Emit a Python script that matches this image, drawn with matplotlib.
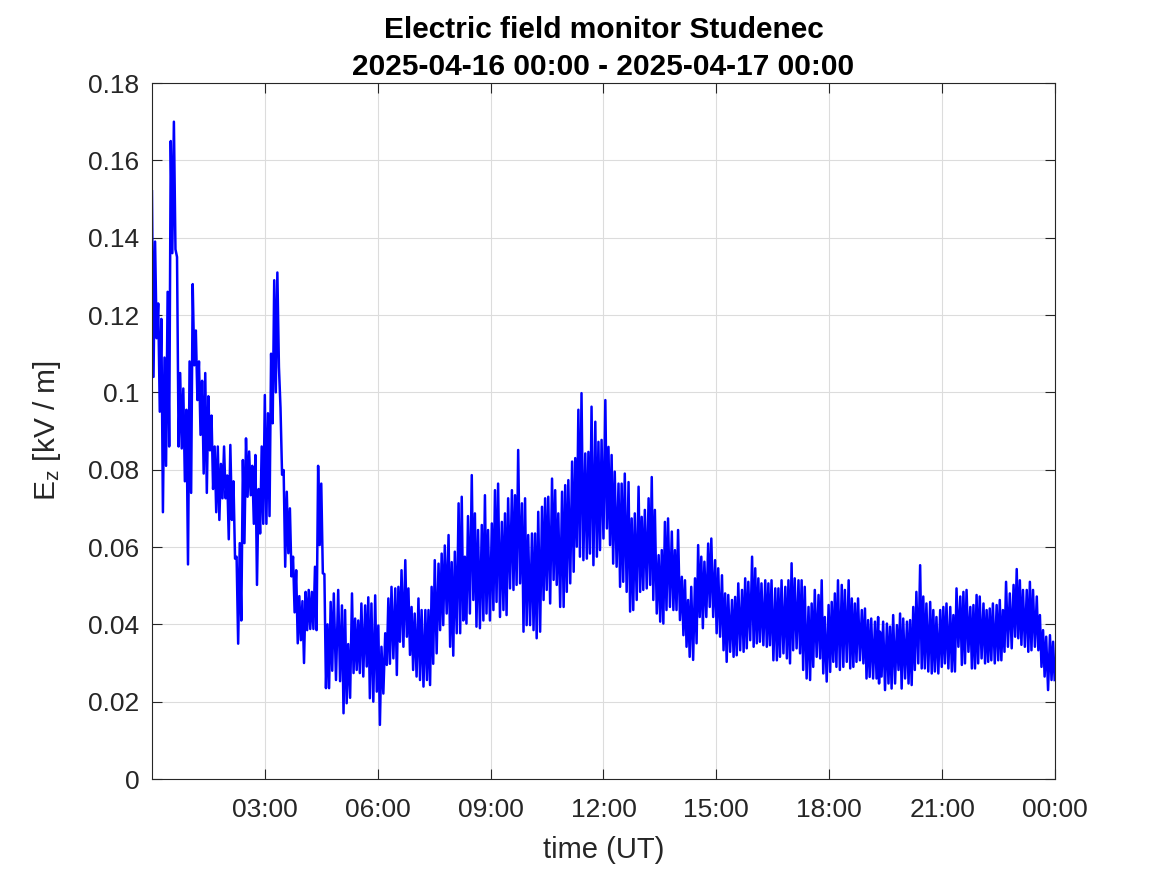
import matplotlib
matplotlib.use('Agg')
import matplotlib.pyplot as plt
import numpy as np

plt.rcParams.update({
    'font.family': ['Liberation Sans', 'DejaVu Sans'],
    'mathtext.fontset': 'custom',
    'mathtext.rm': 'Liberation Sans',
    'mathtext.it': 'Liberation Sans:italic',
})

# Ez: for each ~5 min window its start time (minutes after 00:00 UT),
# the highest and the lowest value of the noisy trace in that window (kV/m)
t_min = [
    0, 5, 10, 15, 20, 25, 30, 35, 40, 45, 50, 55,
    60, 65, 70, 75, 80, 85, 90, 95, 100, 105, 110, 115,
    120, 125, 130, 135, 140, 145, 150, 155, 160, 165, 170, 175,
    180, 185, 190, 195, 200, 205, 210, 215, 220, 225, 230, 235,
    240, 245, 250, 255, 260, 265, 270, 275, 280, 285, 290,
    297, 303, 308, 313, 319, 324, 329, 334, 340, 345, 350, 356,
    361, 366, 372, 377, 382, 388, 393, 398, 404, 409, 414, 419,
    425, 430, 436, 441, 446, 451, 457, 462, 467, 473, 478, 483,
    489, 494, 499, 504, 510, 515, 520, 526, 531, 536, 542, 547,
    552, 558, 563, 568, 574, 579, 584, 590, 595,
    600, 606, 611, 616, 622, 627, 632, 638, 643, 648, 654, 659,
    664, 670, 675, 680, 685, 691, 696, 701, 707, 712, 717, 723,
    728, 733, 738, 744, 749, 754, 760, 765, 770, 776, 781, 786,
    792, 797, 802, 808, 813, 818, 823, 829, 834, 839, 845, 850,
    855, 860, 866, 871, 876, 881, 887, 892,
    898, 903, 909, 914, 919, 925, 930, 935, 941, 946, 951, 957,
    962, 967, 972, 978, 983, 988, 994, 999, 1004, 1010, 1015, 1020,
    1025, 1031, 1036, 1041, 1047, 1052, 1057, 1063, 1068, 1073, 1079, 1084,
    1089, 1094, 1100, 1105, 1111, 1116, 1121, 1126, 1132, 1137, 1142, 1147,
    1153, 1158,
    1161, 1166, 1172, 1177, 1182, 1188, 1193, 1198, 1204, 1209, 1214, 1219,
    1225, 1230, 1235, 1241, 1246, 1251, 1257, 1262, 1267, 1273, 1278, 1283,
    1289, 1294, 1299, 1305, 1310, 1315, 1320, 1326, 1331, 1336, 1341, 1347,
    1352, 1357, 1362, 1368, 1374, 1379, 1384, 1389, 1395, 1400, 1405, 1411,
    1416, 1421, 1426, 1432, 1437,
]
ez_hi = [
    0.152, 0.139, 0.123, 0.119, 0.109, 0.126, 0.165, 0.170, 0.135, 0.105, 0.101, 0.0955,
    0.108, 0.128, 0.116, 0.108, 0.103, 0.105, 0.099, 0.094, 0.086, 0.086, 0.0815, 0.086,
    0.0785, 0.0864, 0.077, 0.0575, 0.061, 0.0825, 0.0881, 0.0847, 0.081, 0.0838, 0.075, 0.086,
    0.0993, 0.0946, 0.110, 0.129, 0.131, 0.096, 0.0799, 0.0743, 0.070, 0.0575, 0.054, 0.0473,
    0.046, 0.0484, 0.0489, 0.0484, 0.0549, 0.081, 0.0764, 0.053, 0.040, 0.0458, 0.048,
    0.0489, 0.0449, 0.0437, 0.0349, 0.048, 0.0415, 0.041, 0.0454, 0.0449, 0.047, 0.0454, 0.0475,
    0.0397, 0.0342, 0.0377, 0.0467, 0.0497, 0.0493, 0.0497, 0.054, 0.0566, 0.0493, 0.0445, 0.0428,
    0.0467, 0.0437, 0.0437, 0.0437, 0.0497, 0.0566, 0.0557, 0.0583, 0.0604, 0.0631, 0.0561, 0.0588,
    0.0713, 0.073, 0.0575, 0.068, 0.0786, 0.0687, 0.0644, 0.0657, 0.0734, 0.0644, 0.0661, 0.0747,
    0.0764, 0.0665, 0.0687, 0.0726, 0.0747, 0.0734, 0.0851, 0.0713, 0.0726,
    0.0631, 0.0635, 0.0635, 0.0691, 0.0704, 0.0726, 0.073, 0.0777, 0.0747, 0.0687, 0.0743, 0.076,
    0.0773, 0.0821, 0.083, 0.0955, 0.0998, 0.0842, 0.0846, 0.0963, 0.0924, 0.0872, 0.0877, 0.098,
    0.0859, 0.0838, 0.0795, 0.0764, 0.0764, 0.079, 0.0768, 0.0674, 0.0687, 0.0756, 0.0678, 0.0696,
    0.0726, 0.0781, 0.0696, 0.0579, 0.0592, 0.0665, 0.0674, 0.064, 0.0592, 0.0644, 0.0523, 0.0514,
    0.0463, 0.0497, 0.0519, 0.0605, 0.0575, 0.0562, 0.0609, 0.0622,
    0.0566, 0.0545, 0.0527, 0.048, 0.0476, 0.0463, 0.0471, 0.0506, 0.0489, 0.0519, 0.051, 0.0575,
    0.0545, 0.0519, 0.0506, 0.0514, 0.0506, 0.0514, 0.0493, 0.0493, 0.0514, 0.0497, 0.0514, 0.0558,
    0.0519, 0.0514, 0.0514, 0.0497, 0.0445, 0.0454, 0.0489, 0.0476, 0.0514, 0.0419, 0.045, 0.0458,
    0.048, 0.0514, 0.0502, 0.0489, 0.0514, 0.0467, 0.0454, 0.0467, 0.0437, 0.0441, 0.0411, 0.0415,
    0.0407, 0.0419,
    0.0381, 0.0407, 0.0402, 0.0394, 0.0424, 0.0398, 0.0428, 0.0415, 0.0407, 0.0411, 0.0445, 0.0484,
    0.0553, 0.0472, 0.0454, 0.0458, 0.0437, 0.0419, 0.0437, 0.0445, 0.0454, 0.0445, 0.0424, 0.0493,
    0.0472, 0.0484, 0.0489, 0.0445, 0.045, 0.0476, 0.0472, 0.0454, 0.0437, 0.0441, 0.0454, 0.045,
    0.0463, 0.0437, 0.051, 0.048, 0.0502, 0.0543, 0.0514, 0.0489, 0.0489, 0.051, 0.0489, 0.0472,
    0.0424, 0.0385, 0.0368, 0.0372, 0.0355,
]
ez_lo = [
    0.104, 0.114, 0.095, 0.069, 0.081, 0.086, 0.136, 0.137, 0.086, 0.0855, 0.077, 0.0555,
    0.074, 0.107, 0.098, 0.089, 0.079, 0.074, 0.085, 0.075, 0.069, 0.067, 0.0726, 0.0726,
    0.062, 0.067, 0.057, 0.035, 0.041, 0.061, 0.073, 0.0734, 0.066, 0.0502, 0.0635, 0.066,
    0.066, 0.068, 0.092, 0.100, 0.1066, 0.0787, 0.0549, 0.0584, 0.0524, 0.0431, 0.0351, 0.0359,
    0.030, 0.0385, 0.0388, 0.0388, 0.0385, 0.0605, 0.0532, 0.0235, 0.0235, 0.028, 0.0256,
    0.0253, 0.017, 0.0196, 0.021, 0.0274, 0.0282, 0.0274, 0.0265, 0.0291, 0.0209, 0.020, 0.0226,
    0.014, 0.0221, 0.0295, 0.0298, 0.0312, 0.0269, 0.0355, 0.0342, 0.0368, 0.0321, 0.0282, 0.0265,
    0.0256, 0.0239, 0.0256, 0.0243, 0.0298, 0.0325, 0.0385, 0.0398, 0.0428, 0.0342, 0.0319, 0.0377,
    0.0377, 0.041, 0.0402, 0.0428, 0.0463, 0.0394, 0.039, 0.041, 0.0428, 0.041, 0.0437, 0.0458,
    0.0419, 0.0437, 0.0424, 0.0493, 0.0489, 0.0502, 0.0506, 0.0381, 0.0398,
    0.0398, 0.0385, 0.0364, 0.0381, 0.0463, 0.0489, 0.0454, 0.0515, 0.0502, 0.0445, 0.0445, 0.0484,
    0.0506, 0.0536, 0.0601, 0.0575, 0.0566, 0.057, 0.0583, 0.0553, 0.0575, 0.0592, 0.0622, 0.0648,
    0.0605, 0.0557, 0.0549, 0.0497, 0.051, 0.0484, 0.0433, 0.0437, 0.0463, 0.0484, 0.0489, 0.0493,
    0.0502, 0.0463, 0.0428, 0.0407, 0.0402, 0.0437, 0.0445, 0.0437, 0.0437, 0.0411, 0.0372, 0.0342,
    0.0316, 0.0308, 0.0351, 0.0419, 0.039, 0.0419, 0.0445, 0.0419,
    0.0377, 0.0368, 0.0333, 0.0303, 0.0329, 0.0316, 0.032, 0.0333, 0.0329, 0.0338, 0.0359, 0.0342,
    0.0351, 0.0355, 0.0346, 0.0342, 0.0346, 0.0307, 0.0307, 0.0316, 0.0325, 0.0312, 0.0299, 0.0333,
    0.0338, 0.0325, 0.0282, 0.026, 0.0256, 0.029, 0.0316, 0.0312, 0.0273, 0.0252, 0.0277, 0.0303,
    0.029, 0.0282, 0.029, 0.0303, 0.0286, 0.029, 0.0303, 0.0307, 0.0299, 0.026, 0.0264, 0.026,
    0.026, 0.0247,
    0.0265, 0.023, 0.0247, 0.0234, 0.0247, 0.0282, 0.0234, 0.026, 0.0247, 0.0243, 0.0282, 0.0299,
    0.0286, 0.0286, 0.0278, 0.0273, 0.0278, 0.0273, 0.029, 0.0299, 0.0286, 0.0278, 0.0278, 0.0342,
    0.0295, 0.0299, 0.0329, 0.0286, 0.0286, 0.0299, 0.0312, 0.0299, 0.0303, 0.0307, 0.0299, 0.0307,
    0.0307, 0.0329, 0.0342, 0.0338, 0.0368, 0.0364, 0.0347, 0.0342, 0.0329, 0.0333, 0.0342, 0.0333,
    0.029, 0.0265, 0.023, 0.0256, 0.0256,
]

xtick_hours = [3, 6, 9, 12, 15, 18, 21, 24]
xtick_labels = ['03:00', '06:00', '09:00', '12:00', '15:00', '18:00', '21:00', '00:00']
ytick_vals = [0, 0.02, 0.04, 0.06, 0.08, 0.1, 0.12, 0.14, 0.16, 0.18]
ytick_labels = ['0', '0.02', '0.04', '0.06', '0.08', '0.1', '0.12', '0.14', '0.16', '0.18']

# trace: window maximum at window start, window minimum half-way to the next window
t_hi = np.array(t_min, dtype=float)
t_lo = np.append((t_hi[:-1] + t_hi[1:]) / 2, t_hi[-1] + 2.5)
t_all = np.ravel(np.column_stack([t_hi, t_lo])) / 60.0
ez_all = np.ravel(np.column_stack([ez_hi, ez_lo]))

fig = plt.figure(figsize=(11.67, 8.75), dpi=100)
ax = fig.add_axes([0.1302, 0.1097, 0.7738, 0.7954])

ax.plot(t_all, ez_all, color='#0000ff', linewidth=1.8)

ax.set_xlim(0, 24)
ax.set_ylim(0, 0.18)
ax.set_xticks(xtick_hours)
ax.set_xticklabels(xtick_labels)
ax.set_yticks(ytick_vals)
ax.set_yticklabels(ytick_labels)

ax.grid(True, color='#dcdcdc', linewidth=0.8)
ax.set_axisbelow(True)
for s in ax.spines.values():
    s.set_color('#262626')
    s.set_linewidth(0.8)
ax.tick_params(direction='in', length=7, width=0.8, colors='#262626',
               labelsize=19, top=True, right=True)
ax.tick_params(axis='y', pad=9)
ax.tick_params(axis='x', pad=14)

ax.set_xlabel('time (UT)', fontsize=21, color='#262626', labelpad=10)
ax.set_ylabel(r'E$_\mathrm{z}$ [kV / m]', fontsize=21.5, color='#262626', labelpad=18)
ax.set_title('Electric field monitor Studenec\n2025-04-16 00:00 - 2025-04-17 00:00',
             fontsize=21.5, fontweight='bold', color='black', pad=6, linespacing=1.4)

fig.savefig('out.png', dpi=100, facecolor='white')
